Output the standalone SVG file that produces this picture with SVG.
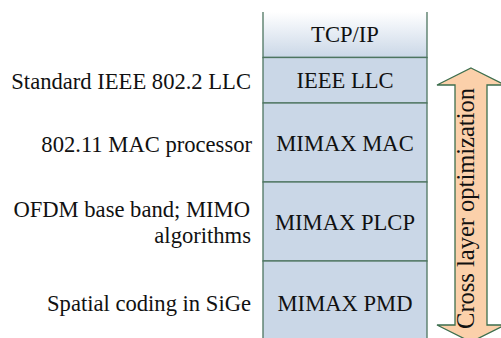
<svg xmlns="http://www.w3.org/2000/svg" width="501" height="338" viewBox="0 0 501 338">
<defs>
<linearGradient id="topgrad" x1="0" y1="0" x2="0" y2="1">
<stop offset="0" stop-color="#ffffff"/>
<stop offset="1" stop-color="#cad7e7"/>
</linearGradient>
<style>
text{font-family:'Liberation Serif',serif;font-size:22.6px;fill:#111}
.c{text-anchor:middle}
.e{text-anchor:end}
.box{fill:#cad7e7;stroke:#4d7560;stroke-width:1.3}
</style>
</defs>
<rect width="501" height="338" fill="#ffffff"/>
<g id="tcpip">
<rect x="263" y="12" width="164" height="45.5" fill="url(#topgrad)" stroke="none"/>
<path d="M263 12V57.5H427V12" fill="none" stroke="#4d7560" stroke-width="1.3"/>
<text class="c" x="345" y="41.5" font-family="Liberation Serif">TCP/IP</text>
</g>
<g id="llc">
<rect class="box" x="263" y="57.5" width="164" height="45.5"/>
<text class="c" x="345" y="87.5" font-family="Liberation Serif">IEEE LLC</text>
</g>
<g id="mac">
<rect class="box" x="263" y="103" width="164" height="79"/>
<text class="c" x="345" y="150.5" font-family="Liberation Serif">MIMAX MAC</text>
</g>
<g id="plcp">
<rect class="box" x="263" y="182" width="164" height="79"/>
<text class="c" x="345" y="229.5" font-family="Liberation Serif">MIMAX PLCP</text>
</g>
<g id="pmd">
<rect class="box" x="263" y="261" width="164" height="90"/>
<text class="c" x="345" y="311" font-family="Liberation Serif">MIMAX PMD</text>
</g>
<g id="labels" font-family="Liberation Serif">
<text class="e" x="251" y="88.5">Standard IEEE 802.2 LLC</text>
<text class="e" x="252" y="151.5">802.11 MAC processor</text>
<text class="e" x="250" y="216.5">OFDM base band; MIMO</text>
<text class="e" x="251" y="243">algorithms</text>
<text class="e" x="251" y="311">Spatial coding in SiGe</text>
</g>
<g id="arrow">
<path d="M471 68L505 85H487V325H505L471 342L437 325H455V85H437Z" fill="#fbd0aa" stroke="#3d6e4d" stroke-width="1.3"/>
<text class="c" style="font-size:24.5px" font-family="Liberation Serif" transform="translate(474 208.5) rotate(-90)">Cross layer optimization</text>
</g>
</svg>
